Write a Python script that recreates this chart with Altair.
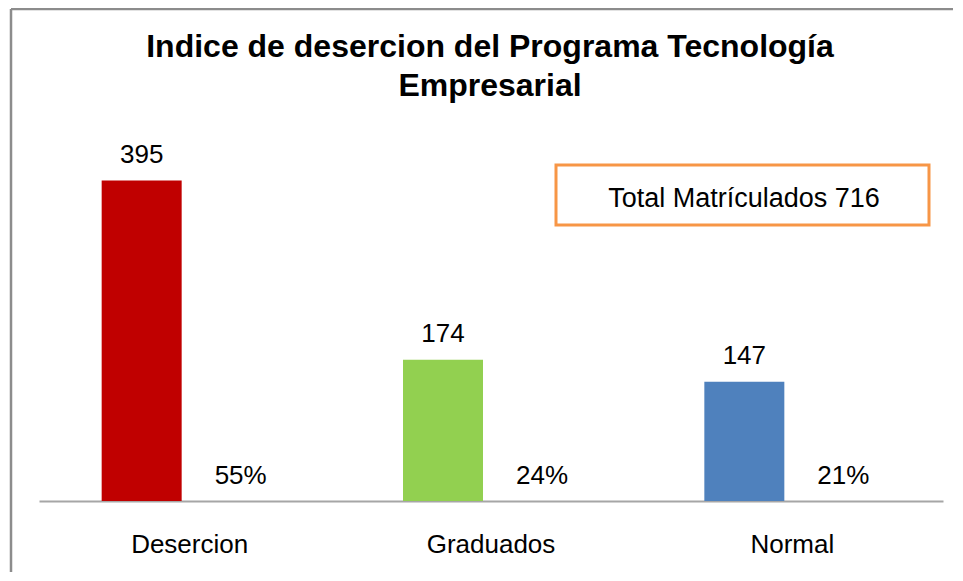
import altair as alt
import pandas as pd

categories = ["Desercion", "Graduados", "Normal"]
counts = [395, 174, 147]
percents = [0.55, 0.24, 0.21]
pct_labels = ["55%", "24%", "21%"]
colors = ["#C00000", "#92D050", "#4F81BD"]
title_lines = ["Indice de desercion del Programa Tecnología", "Empresarial"]
box_label = "Total Matrículados " + str(sum(counts))

FONT = "Liberation Sans"

df = pd.DataFrame({"cat": categories, "count": counts, "pct": percents, "pct_label": pct_labels})
one = pd.DataFrame({"label": [box_label], "title": ["\n".join(title_lines)]})

x = alt.X(
    "cat:N",
    sort=categories,
    scale=alt.Scale(paddingInner=0, paddingOuter=0),
    axis=alt.Axis(
        title=None, labelAngle=0, ticks=False, grid=False,
        domainColor="#a6a6a6", domainWidth=2,
        labelFont=FONT, labelFontSize=26, labelColor="black",
        labelBaseline="alphabetic", labelPadding=51,
    ),
)
yscale = alt.Scale(domain=[0, 450])

base = alt.Chart(df)

bars = base.mark_bar(width=80, xOffset=-48).encode(
    x=x,
    y=alt.Y("count:Q", scale=yscale, axis=None),
    color=alt.Color("cat:N", scale=alt.Scale(domain=categories, range=colors), legend=None),
)

count_text = base.mark_text(dx=-48, dy=-18, baseline="alphabetic", font=FONT, fontSize=26, color="black").encode(
    x=x, y=alt.Y("count:Q", scale=yscale), text="count:Q"
)

pct_text = base.mark_text(dx=51, dy=-17, baseline="alphabetic", font=FONT, fontSize=26, color="black").encode(
    x=x, y=alt.Y("pct:Q", scale=yscale), text="pct_label:N"
)

box = alt.Chart(one).mark_rect(fill="white", stroke="#F79646", strokeWidth=3).encode(
    x=alt.value(517), x2=alt.value(890), y=alt.value(29), y2=alt.value(89)
)
box_text = alt.Chart(one).mark_text(baseline="alphabetic", align="center", font=FONT, fontSize=27, color="black").encode(
    x=alt.value(705), y=alt.value(71), text="label:N"
)

title_text = alt.Chart(one).mark_text(
    baseline="alphabetic", align="center", font=FONT, fontSize=32, fontWeight="bold",
    color="black", lineBreak="\n", lineHeight=39,
).encode(x=alt.value(451), y=alt.value(-79), text="title:N")

border_left = alt.Chart(one).mark_rule(color="#8c8c8c", strokeWidth=2.5).encode(
    x=alt.value(-28), y=alt.value(-127), y2=alt.value(440)
)
border_top = alt.Chart(one).mark_rule(color="#8c8c8c", strokeWidth=2.5).encode(
    x=alt.value(-28), x2=alt.value(920), y=alt.value(-127)
)

chart = alt.layer(border_left, border_top, bars, count_text, pct_text, box, box_text, title_text).properties(
    width=904,
    height=365,
    autosize=alt.AutoSizeParams(type="none"),
    padding={"left": 31, "top": 128, "right": 10, "bottom": 71},
    background="white",
).configure_view(stroke=None).configure_axis(grid=False)

chart.save("out.html", embed_options={"renderer": "svg", "actions": False})
